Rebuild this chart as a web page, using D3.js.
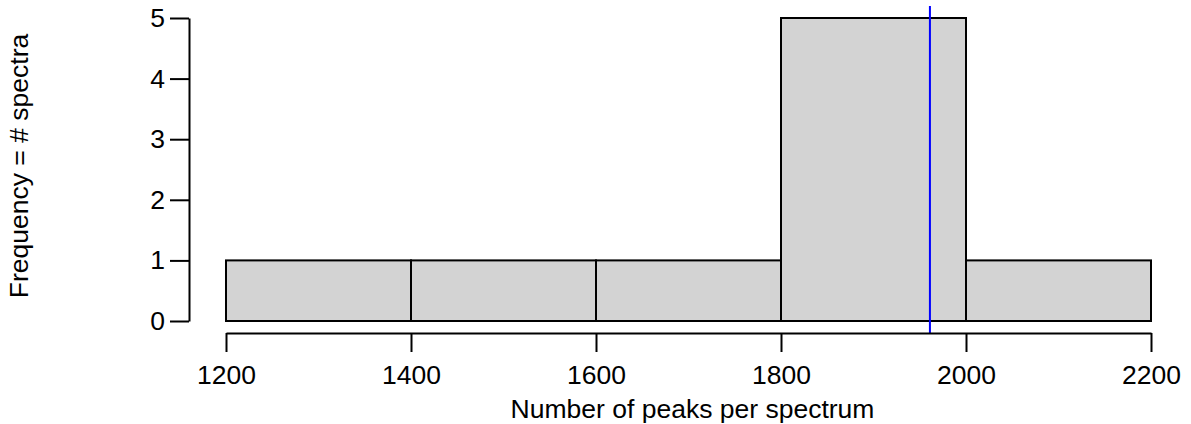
<!DOCTYPE html>
<html>
<head>
<meta charset="utf-8">
<script src="https://cdn.jsdelivr.net/npm/d3@7"></script>
<style>
  body { margin: 0; background: #fff; }
  svg text { font-family: "Liberation Sans", Arial, sans-serif; fill: #000; }
</style>
</head>
<body>
<div id="chart"></div>
<script>
// histogram bins (breaks) and counts
const breaks = [1200, 1400, 1600, 1800, 2000, 2200];
const counts = [1, 1, 1, 5, 1];
const xTicks = [1200, 1400, 1600, 1800, 2000, 2200];
const yTicks = [0, 1, 2, 3, 4, 5];
const meanPeaks = 1961;
const xTitle = "Number of peaks per spectrum";
const yTitle = "Frequency = # spectra";

function drawHist(targetId) {
    const W = 1191, H = 424;
    const fontSize = 26.5;

    const svg = d3.select(`#${targetId}`).append("svg")
        .attr("width", W)
        .attr("height", H);

    const x = d3.scaleLinear().domain([1200, 2200]).range([226, 1151]);
    const y = d3.scaleLinear().domain([0, 5]).range([321, 18]);

    const bins = counts.map((c, i) => ({ x0: breaks[i], x1: breaks[i + 1], n: c }));

    svg.selectAll(".bar")
        .data(bins)
        .enter()
        .append("rect")
            .attr("class", "bar")
            .attr("x", d => x(d.x0))
            .attr("y", d => y(d.n))
            .attr("width", d => x(d.x1) - x(d.x0))
            .attr("height", d => y(0) - y(d.n))
            .attr("fill", "#d3d3d3")
            .attr("stroke", "#000")
            .attr("stroke-width", 2);

    // vertical line at the mean
    svg.append("line")
        .attr("x1", x(meanPeaks)).attr("x2", x(meanPeaks))
        .attr("y1", 6).attr("y2", 333)
        .attr("stroke", "#0000ff")
        .attr("stroke-width", 2);

    // x axis, R style: offset below the bars
    const gx = svg.append("g")
        .attr("transform", "translate(0,333)")
        .call(d3.axisBottom(x).tickValues(xTicks).tickFormat(d3.format("d"))
            .tickSize(19).tickSizeOuter(0).tickPadding(13));
    gx.select(".domain").attr("stroke-width", 2);
    gx.selectAll(".tick line").attr("stroke-width", 2);
    gx.selectAll("text").attr("font-size", fontSize).attr("font-family", null);

    // y axis
    const gy = svg.append("g")
        .attr("transform", "translate(189,0)")
        .call(d3.axisLeft(y).tickValues(yTicks).tickFormat(d3.format("d"))
            .tickSize(19).tickSizeOuter(0).tickPadding(5));
    gy.select(".domain").attr("stroke-width", 2);
    gy.selectAll(".tick line").attr("stroke-width", 2);
    gy.selectAll("text").attr("font-size", fontSize).attr("font-family", null);

    svg.append("text")
        .attr("x", x(1700) + 4)
        .attr("y", 418)
        .attr("text-anchor", "middle")
        .attr("font-size", fontSize)
        .text(xTitle);

    svg.append("text")
        .attr("transform", "translate(28,166) rotate(-90)")
        .attr("text-anchor", "middle")
        .attr("font-size", fontSize)
        .text(yTitle);
}

drawHist("chart");
</script>
</body>
</html>
